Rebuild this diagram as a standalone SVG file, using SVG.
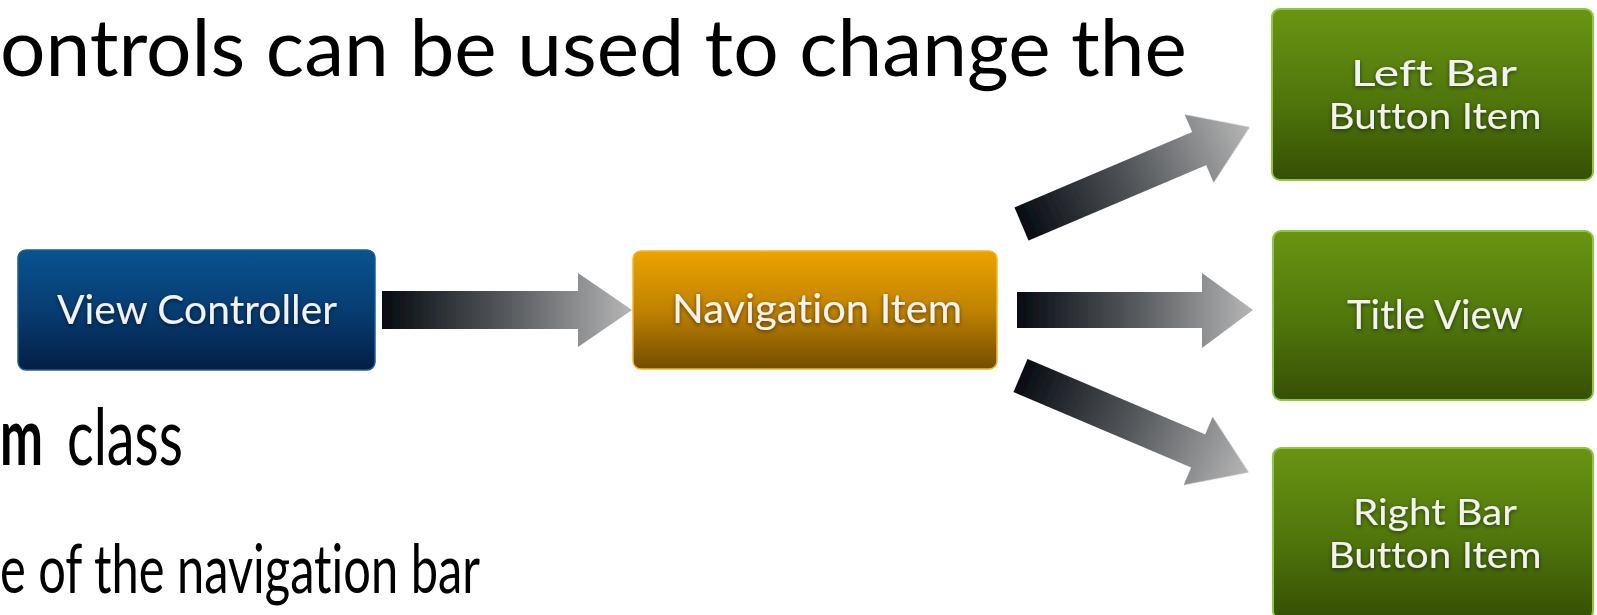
<svg xmlns="http://www.w3.org/2000/svg" width="1597" height="615" viewBox="0 0 1597 615">
  <defs>
    <linearGradient id="gBlue" x1="0" y1="0" x2="0" y2="1">
      <stop offset="0" stop-color="#09538f"/>
      <stop offset="0.5" stop-color="#073d72"/>
      <stop offset="1" stop-color="#041f45"/>
    </linearGradient>
    <linearGradient id="gOrange" x1="0" y1="0" x2="0" y2="1">
      <stop offset="0" stop-color="#eba300"/>
      <stop offset="0.5" stop-color="#c18300"/>
      <stop offset="1" stop-color="#744d00"/>
    </linearGradient>
    <linearGradient id="gGreen" x1="0" y1="0" x2="0" y2="1">
      <stop offset="0" stop-color="#6a9512"/>
      <stop offset="0.55" stop-color="#4f750b"/>
      <stop offset="1" stop-color="#364f04"/>
    </linearGradient>
    <linearGradient id="gArrow" x1="0" y1="0" x2="1" y2="0">
      <stop offset="0" stop-color="#060b11"/>
      <stop offset="0.5" stop-color="#56595d"/>
      <stop offset="1" stop-color="#b6b6b6"/>
    </linearGradient>
    <filter id="glow" x="-10%" y="-30%" width="120%" height="160%">
      <feDropShadow dx="0" dy="1.5" stdDeviation="2" flood-color="#000" flood-opacity="0.55"/>
    </filter>
    <filter id="soft" x="-5%" y="-10%" width="110%" height="120%">
      <feGaussianBlur stdDeviation="0.6"/>
    </filter>
  </defs>
  <style>
    text { font-variant-ligatures: none; font-feature-settings: "liga" 0, "clig" 0; }
    .body { font-family: Lato, "Liberation Sans", sans-serif; fill: #000; }
    .lbl { font-family: Lato, "Open Sans", sans-serif; fill: #f2f2f2; font-size: 40px; text-anchor: middle; filter: url(#glow); }
    .two { font-size: 37px; }
    .blue { fill: url(#gBlue); stroke: #1d5f96; stroke-width: 1.5; }
    .orange { fill: url(#gOrange); stroke: #f4b62a; stroke-width: 1.5; }
    .green { fill: url(#gGreen); stroke: #8ec63f; stroke-width: 2; }
    .arrow { fill: url(#gArrow); filter: url(#soft); }
  </style>

  <!-- slide body text -->
  <text class="body" x="0" y="76" font-size="80" textLength="1187" lengthAdjust="spacingAndGlyphs">ontrols can be used to change the</text>
  <text class="body" x="0" y="465" font-size="80" font-weight="bold" textLength="43" lengthAdjust="spacingAndGlyphs">m</text>
  <text class="body" x="67" y="465" font-size="80" textLength="116" lengthAdjust="spacingAndGlyphs">class</text>
  <text class="body" x="0" y="593" font-size="68" textLength="480" lengthAdjust="spacingAndGlyphs">e of the navigation bar</text>

  <!-- connectors -->
  <g id="connectors">
    <path class="arrow" transform="translate(382,310)" d="M0,-19 H196 V-37 L250,0 L196,37 V19 H0 Z"/>
    <path class="arrow" transform="translate(1017,310)" d="M0,-18 H185 V-37 L236,0 L185,38 V18 H0 Z"/>
    <path class="arrow" transform="translate(1021.5,224) rotate(-23)" d="M0,-18 H193 V-37 L248,0 L193,37 V18 H0 Z"/>
    <path class="arrow" transform="translate(1020.5,375.5) rotate(23)" d="M0,-18 H193 V-37 L248,0 L193,37 V18 H0 Z"/>
  </g>

  <g id="view-controller">
    <rect class="blue" x="18" y="250" width="357" height="120" rx="8"/>
    <text class="lbl" x="197" y="324" textLength="280" lengthAdjust="spacingAndGlyphs">View Controller</text>
  </g>

  <g id="navigation-item">
    <rect class="orange" x="633" y="251" width="364" height="118" rx="8"/>
    <text class="lbl" x="817" y="323" textLength="290" lengthAdjust="spacingAndGlyphs">Navigation Item</text>
  </g>

  <g id="left-bar-button-item">
    <rect class="green" x="1272" y="9" width="321" height="171" rx="8"/>
    <text class="lbl two" x="1434" y="86" textLength="166" lengthAdjust="spacingAndGlyphs">Left Bar</text>
    <text class="lbl two" x="1435" y="129" textLength="213" lengthAdjust="spacingAndGlyphs">Button Item</text>
  </g>

  <g id="title-view">
    <rect class="green" x="1273" y="231" width="320" height="169" rx="8"/>
    <text class="lbl" x="1435" y="329" textLength="176" lengthAdjust="spacingAndGlyphs">Title View</text>
  </g>

  <g id="right-bar-button-item">
    <rect class="green" x="1273" y="448" width="320" height="171" rx="8"/>
    <text class="lbl two" x="1435" y="525" textLength="164" lengthAdjust="spacingAndGlyphs">Right Bar</text>
    <text class="lbl two" x="1435" y="568" textLength="213" lengthAdjust="spacingAndGlyphs">Button Item</text>
  </g>
</svg>
